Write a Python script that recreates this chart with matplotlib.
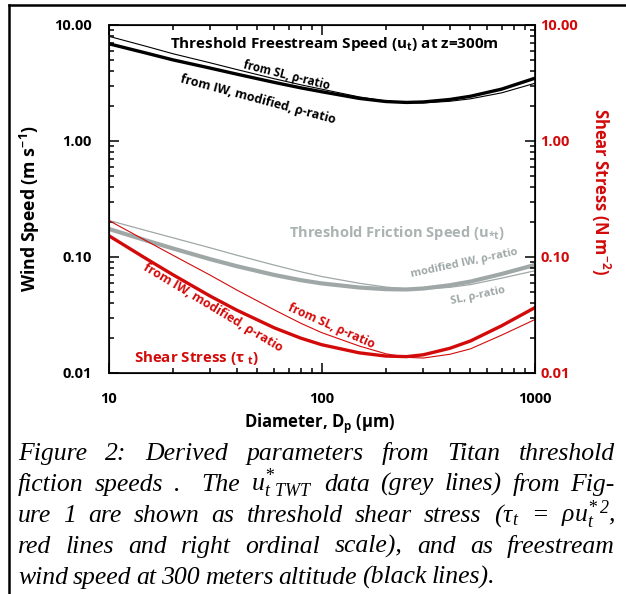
import matplotlib
matplotlib.use('Agg')
import matplotlib.pyplot as plt
from matplotlib.ticker import LogLocator, FormatStrFormatter, NullFormatter, FixedLocator

# particle diameter, micrometres
diam = [10, 15, 20, 30, 40, 60, 80, 100, 150, 200, 250, 300, 400, 500, 700, 1000]

# freestream speed at z=300 m (m/s)
u300_iw = [6.9, 5.73, 5.01, 4.25, 3.77, 3.20, 2.87, 2.66, 2.33, 2.19, 2.15, 2.17, 2.28, 2.43, 2.80, 3.47]
u300_sl = [8.0, 6.55, 5.66, 4.72, 4.13, 3.44, 3.05, 2.80, 2.40, 2.21, 2.14, 2.13, 2.20, 2.31, 2.60, 3.14]

# threshold friction speed (m/s)
ustar_iw = [0.1748, 0.139, 0.1186, 0.0958, 0.0833, 0.0700, 0.0631, 0.0592, 0.0546, 0.0528, 0.0525,
            0.0535, 0.0571, 0.0614, 0.0714, 0.0853]
ustar_sl = [0.207, 0.169, 0.1466, 0.120, 0.1036, 0.0851, 0.0745, 0.0679, 0.0594, 0.0551, 0.0531,
            0.0528, 0.0548, 0.0578, 0.0657, 0.0760]

# threshold shear stress (N/m2)
tau_iw = [0.153, 0.0968, 0.0705, 0.0460, 0.0348, 0.0245, 0.01995, 0.01754, 0.01493, 0.0140, 0.01384,
          0.01435, 0.01633, 0.01888, 0.02553, 0.03648]
tau_sl = [0.207, 0.138, 0.1038, 0.0697, 0.0519, 0.0350, 0.0268, 0.0223, 0.0171, 0.01466, 0.01365,
          0.01346, 0.0145, 0.01615, 0.0212, 0.0288]

yticks = [0.01, 0.1, 1, 10]
xticks = [10, 100, 1000]

RED = '#d20a0a'
GREY = '#9fa8a7'
GREY_TXT = '#aab3b2'
SANS = ['Open Sans', 'DejaVu Sans']

plt.rcParams['font.family'] = SANS
plt.rcParams['mathtext.fontset'] = 'custom'

W, H = 626, 594
fig = plt.figure(figsize=(W / 100, H / 100), dpi=100)


def fx(px):
    return px / W


def fy(py):
    return 1 - py / H


ax = fig.add_axes([fx(108.6), fy(373), fx(534.6) - fx(108.6), fy(25) - fy(373)])
ax.set_xscale('log')
ax.set_yscale('log')
ax.set_xlim(10, 1000)
ax.set_ylim(0.01, 10)

ax.plot(diam, u300_sl, color='black', lw=0.8)
ax.plot(diam, u300_iw, color='black', lw=2.4)
ax.plot(diam, ustar_sl, color=GREY, lw=0.9)
ax.plot(diam, ustar_iw, color=GREY, lw=3.0)
ax.plot(diam, tau_sl, color=RED, lw=0.8)
ax.plot(diam, tau_iw, color=RED, lw=2.4)

ax.xaxis.set_major_locator(FixedLocator(xticks))
ax.xaxis.set_major_formatter(FormatStrFormatter('%d'))
ax.xaxis.set_minor_locator(LogLocator(base=10, subs=range(2, 10)))
ax.xaxis.set_minor_formatter(NullFormatter())
ax.yaxis.set_major_locator(FixedLocator(yticks))
ax.yaxis.set_major_formatter(FormatStrFormatter('%.2f'))
ax.yaxis.set_minor_locator(LogLocator(base=10, subs=range(2, 10)))
ax.yaxis.set_minor_formatter(NullFormatter())
ax.tick_params(which='both', direction='in', top=True, right=False, width=1.1)
ax.tick_params(which='major', length=7, labelsize=10.5)
ax.tick_params(axis='y', which='major', pad=12)
ax.tick_params(axis='x', which='major', pad=14)
ax.tick_params(which='minor', length=3.5)
for lab in ax.get_xticklabels() + ax.get_yticklabels():
    lab.set_fontweight('bold')
for sp in ax.spines.values():
    sp.set_linewidth(1.2)

ax2 = ax.twinx()
ax2.set_yscale('log')
ax2.set_ylim(0.01, 10)
ax2.yaxis.set_major_locator(FixedLocator(yticks))
ax2.yaxis.set_major_formatter(FormatStrFormatter('%.2f'))
ax2.yaxis.set_minor_locator(LogLocator(base=10, subs=range(2, 10)))
ax2.yaxis.set_minor_formatter(NullFormatter())
ax2.tick_params(which='both', direction='in', width=1.1, labelcolor=RED)
ax2.tick_params(which='major', length=7, labelsize=10.5, pad=4)
ax2.tick_params(which='minor', length=3.5)
for lab in ax2.get_yticklabels():
    lab.set_fontweight('bold')

# axis titles
fig.text(fx(30), fy(209), r'Wind Speed (m s$\mathregular{^{-1}}$)', rotation=90,
         ha='center', va='center', fontsize=12.8, fontweight='bold')
fig.text(fx(601), fy(192), r'Shear Stress (N m$\mathregular{^{-2}}$)', rotation=270,
         ha='center', va='center', fontsize=12, fontweight='bold', color=RED)
fig.text(fx(320), fy(424), r'Diameter, D$\mathregular{_p}$ (µm)', ha='center', va='center',
         fontsize=12, fontweight='bold')


# in-plot labels
def note(x, y, s, color='black', size=8.0, rot=0, weight='bold'):
    fig.text(fx(x), fy(y), s, color=color, fontsize=size, rotation=rot, ha='center',
             va='center', fontweight=weight, rotation_mode='anchor')


note(334, 44, r'Threshold Freestream Speed (u$\mathregular{_t}$) at z=300m', size=11)
note(287, 75, 'from SL, ρ-ratio', size=8.3, rot=-14)
note(258, 99, 'from IW, modified, ρ-ratio', size=9.0, rot=-15)
note(397, 233, r'Threshold Friction Speed (u$\mathregular{_{*t}}$)', color=GREY_TXT, size=10.5)
note(464, 263, 'modified IW, ρ-ratio', color=GREY, rot=12)
note(478, 296, 'SL, ρ-ratio', color=GREY, rot=12)
note(213, 308, 'from IW, modified, ρ-ratio', color=RED, size=9.0, rot=-31)
note(331, 326, 'from SL, ρ-ratio', color=RED, size=8.7, rot=-24)
note(196, 358, r'Shear Stress (τ $\mathregular{_t}$)', color=RED, size=10.8)

# outer frame
fig.add_artist(plt.Line2D([fx(9), fx(626)], [fy(5), fy(5)], color='black', lw=1.8,
                          transform=fig.transFigure))
fig.add_artist(plt.Line2D([fx(9), fx(9)], [fy(5), fy(594)], color='black', lw=1.8,
                          transform=fig.transFigure))

# caption, justified line by line
cap_lines = [
    ['Figure', '2:', 'Derived', 'parameters', 'from', 'Titan', 'threshold'],
    ['fiction', 'speeds', '.', '', 'The', r'$\mathregular{u^{*}_{t\ TWT}}$', 'data', '(grey', 'lines)',
     'from', 'Fig-'],
    ['ure', '1', 'are', 'shown', 'as', 'threshold', 'shear', 'stress',
     r'$\mathregular{(\tau_t}$', '=', r'$\mathregular{\rho u^{*\,2}_{t}}$,'],
    ['red', 'lines', 'and', 'right', 'ordinal', 'scale),', 'and', 'as', 'freestream'],
    ['wind', 'speed', 'at', '300', 'meters', 'altitude', '(black', 'lines).'],
]
cap_base = [460, 491, 522, 553, 584]
cap_kw = dict(family=['Liberation Serif', 'DejaVu Serif'], style='italic', fontsize=18.5,
              va='baseline', ha='left')
renderer = fig.canvas.get_renderer()
x_left, x_right = 18, 615
for i, (words, yb) in enumerate(zip(cap_lines, cap_base)):
    texts = [fig.text(0, fy(yb), w, **cap_kw) for w in words]
    widths = [t.get_window_extent(renderer).width if w else 0 for t, w in zip(texts, words)]
    if i < len(cap_lines) - 1:
        gap = (x_right - x_left - sum(widths)) / (len(words) - 1)
    else:
        gap = 5.0
    x = x_left
    for t, w in zip(texts, widths):
        t.set_x(fx(x))
        x += w + gap

fig.savefig('out.png', dpi=100, facecolor='white')
